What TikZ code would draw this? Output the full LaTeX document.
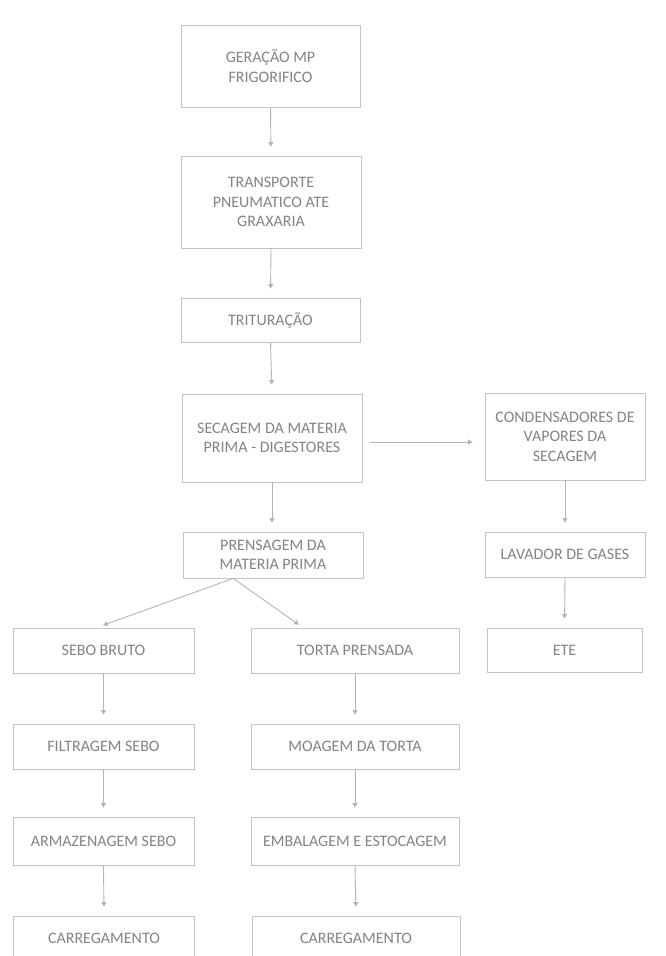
\documentclass[tikz,border=0pt]{standalone}
\usepackage{fontspec}
\setmainfont{Carlito}
\usetikzlibrary{arrows.meta,calc}
\definecolor{boxc}{RGB}{196,196,196}
\definecolor{linec}{RGB}{180,180,180}
\definecolor{txtc}{RGB}{132,132,132}
\begin{document}
\begin{tikzpicture}[x=1pt,y=-1pt,
  box/.style={draw=boxc, line width=0.9pt, text=txtc, align=center, inner sep=0pt,
              font=\fontsize{16}{19.5}\selectfont},
  flow/.style={draw=linec, line width=0.9pt, -{Triangle[width=5pt,length=4.5pt]}, shorten >=9pt}]
\fill[white] (0,0) rectangle (666,956);
\useasboundingbox (0,0) rectangle (666,956);
\clip (0,0) rectangle (666,956);

% main column
\node[box, minimum width=179pt, minimum height=82pt] (ger) at (270.5,66) {GERAÇÃO MP\\FRIGORIFICO};
\node[box, minimum width=180pt, minimum height=92pt] (tra) at (271,202) {TRANSPORTE\\PNEUMATICO ATE\\GRAXARIA};
\node[box, minimum width=179pt, minimum height=44pt] (tri) at (270.5,320) {TRITURAÇÃO};
\node[box, minimum width=180pt, minimum height=88pt] (sec) at (272,438) {SECAGEM DA MATERIA\\PRIMA - DIGESTORES};
\node[box, minimum width=180pt, minimum height=46pt] (pre) at (273,555) {PRENSAGEM DA\\MATERIA PRIMA};

% right column
\node[box, minimum width=160pt, minimum height=87pt] (con) at (565,436.5) {CONDENSADORES DE\\VAPORES DA\\SECAGEM};
\node[box, minimum width=160pt, minimum height=45pt] (lav) at (565,554.5) {LAVADOR DE GASES};
\node[box, minimum width=155pt, minimum height=44pt] (ete) at (564.5,650) {ETE};

% left branch
\node[box, minimum width=181pt, minimum height=45pt] (seb) at (103.5,650.5) {SEBO BRUTO};
\node[box, minimum width=181pt, minimum height=45pt] (fil) at (103.5,746.5) {FILTRAGEM SEBO};
\node[box, minimum width=181pt, minimum height=48pt] (arm) at (103.5,841) {ARMAZENAGEM SEBO};
\node[box, minimum width=181pt, minimum height=45pt] (car1) at (104,938.5) {CARREGAMENTO};

% middle branch
\node[box, minimum width=208pt, minimum height=45pt] (tor) at (355,650.5) {TORTA PRENSADA};
\node[box, minimum width=208pt, minimum height=45pt] (moa) at (355,746.5) {MOAGEM DA TORTA};
\node[box, minimum width=208pt, minimum height=48pt] (emb) at (355,841) {EMBALAGEM E ESTOCAGEM};
\node[box, minimum width=208pt, minimum height=45pt] (car2) at (356,938.5) {CARREGAMENTO};

\coordinate (ps) at ($(pre.south west)!0.28!(pre.south east)$);

% connectors
\draw[flow] (ger.south) -- (tra.north);
\draw[flow] (tra.south) -- (tri.north);
\draw[flow] (tri.south) -- (sec.north);
\draw[flow] (sec.south) -- (sec.south |- pre.north);
\draw[flow, shorten <=8pt, shorten >=12pt] ([yshift=-4pt]sec.east) -- ([yshift=-4pt]sec.east -| con.west);
\draw[flow] (con.south) -- (lav.north);
\draw[flow] (lav.south) -- (ete.north);
\draw[flow, shorten >=7pt] (ps) -- ([xshift=-7pt]seb.north);
\draw[flow, shorten >=5pt] (ps) -- ([xshift=-52pt]tor.north);
\draw[flow] (seb.south) -- (fil.north);
\draw[flow] (fil.south) -- (arm.north);
\draw[flow] (arm.south) -- (car1.north);
\draw[flow] (tor.south) -- (moa.north);
\draw[flow] (moa.south) -- (emb.north);
\draw[flow] (emb.south) -- (car2.north);
\end{tikzpicture}
\end{document}
